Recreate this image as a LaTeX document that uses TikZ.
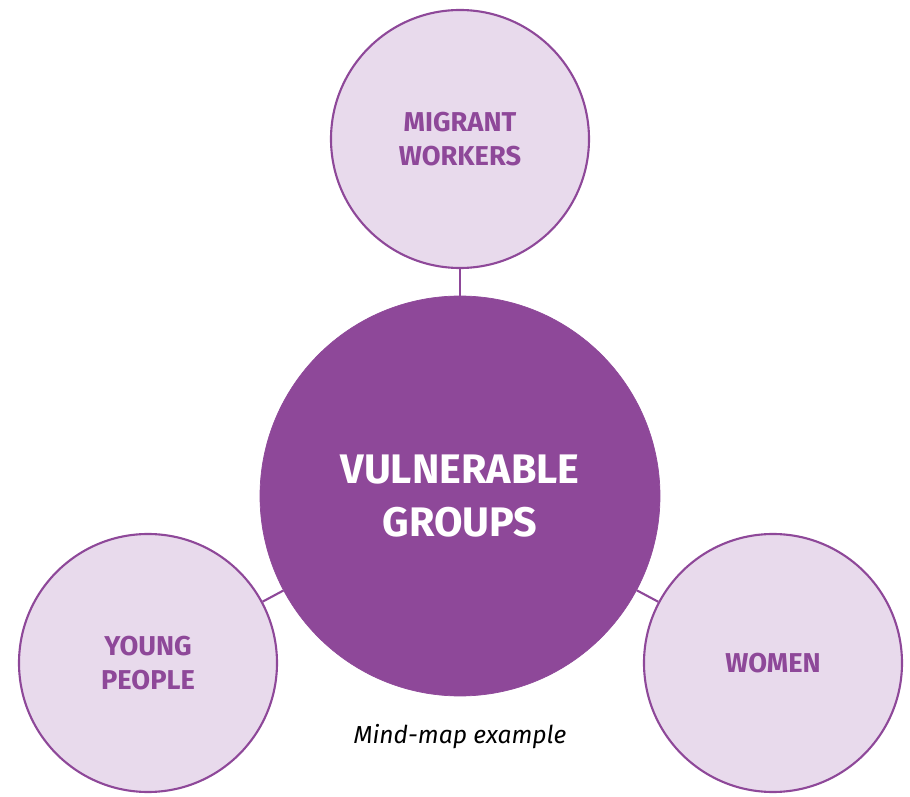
\documentclass[tikz,border=0pt]{standalone}
\usepackage{fontspec}
\setmainfont{Fira Sans}
\usepackage{tikz}
\usetikzlibrary{positioning}

\definecolor{purp}{HTML}{8E4899}
\definecolor{lilac}{HTML}{E8DAEC}

\begin{document}
\begin{tikzpicture}[
        hub/.style={circle, fill=purp, draw=purp, minimum size=8cm, inner sep=0pt,
            text=white, font=\fontsize{23.5}{30}\selectfont\bfseries, align=center},
        group/.style={circle, fill=lilac, draw=purp, line width=1.2pt, minimum size=5.16cm,
            inner sep=0pt, text=purp, font=\fontsize{15.5}{19}\selectfont\bfseries, align=center},
        link/.style={draw=purp, line width=1.2pt}
    ]
        \useasboundingbox (0,0) rectangle (18.2,-15.94);

        \node [hub] (vg) at (9.2,-9.92) {VULNERABLE\\GROUPS};
        \node [group] (mw) at (9.2,-2.78) {MIGRANT\\WORKERS};
        \node [group] (yp) at (2.96,-13.26) {YOUNG\\PEOPLE};
        \node [group] (wo) at (15.46,-13.26) {WOMEN};

        \node [font=\fontsize{14}{17}\selectfont\itshape] (cap) at (9.2,-14.74) {Mind-map example};

    \draw
        (mw) edge[link] (vg)
        (yp) edge[link] (vg)
        (wo) edge[link] (vg)
        ;
    \end{tikzpicture}
\end{document}
